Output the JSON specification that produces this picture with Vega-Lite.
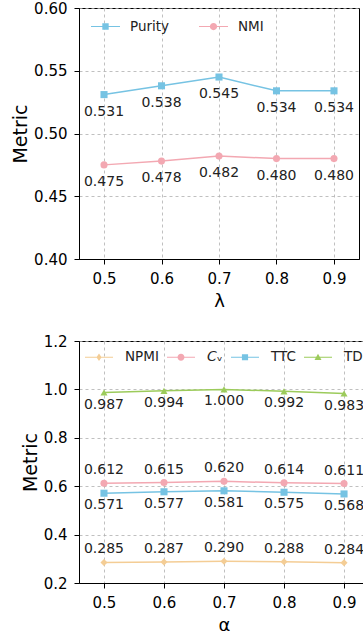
{
  "$schema": "https://vega.github.io/schema/vega-lite/v6.json",
  "padding": {"top": 0, "left": 11, "right": 0, "bottom": 0},
  "spacing": 22,
  "datasets": {
    "lambda": [
      {"param": 0.5, "series": "Purity", "value": 0.531},
      {"param": 0.6, "series": "Purity", "value": 0.538},
      {"param": 0.7, "series": "Purity", "value": 0.545},
      {"param": 0.8, "series": "Purity", "value": 0.534},
      {"param": 0.9, "series": "Purity", "value": 0.534},
      {"param": 0.5, "series": "NMI", "value": 0.475},
      {"param": 0.6, "series": "NMI", "value": 0.478},
      {"param": 0.7, "series": "NMI", "value": 0.482},
      {"param": 0.8, "series": "NMI", "value": 0.480},
      {"param": 0.9, "series": "NMI", "value": 0.480}
    ],
    "alpha": [
      {"param": 0.5, "series": "NPMI", "value": 0.285},
      {"param": 0.6, "series": "NPMI", "value": 0.287},
      {"param": 0.7, "series": "NPMI", "value": 0.290},
      {"param": 0.8, "series": "NPMI", "value": 0.288},
      {"param": 0.9, "series": "NPMI", "value": 0.284},
      {"param": 0.5, "series": "CV", "value": 0.612},
      {"param": 0.6, "series": "CV", "value": 0.615},
      {"param": 0.7, "series": "CV", "value": 0.620},
      {"param": 0.8, "series": "CV", "value": 0.614},
      {"param": 0.9, "series": "CV", "value": 0.611},
      {"param": 0.5, "series": "TTC", "value": 0.571},
      {"param": 0.6, "series": "TTC", "value": 0.577},
      {"param": 0.7, "series": "TTC", "value": 0.581},
      {"param": 0.8, "series": "TTC", "value": 0.575},
      {"param": 0.9, "series": "TTC", "value": 0.568},
      {"param": 0.5, "series": "TD", "value": 0.987},
      {"param": 0.6, "series": "TD", "value": 0.994},
      {"param": 0.7, "series": "TD", "value": 1.000},
      {"param": 0.8, "series": "TD", "value": 0.992},
      {"param": 0.9, "series": "TD", "value": 0.983}
    ]
  },
  "vconcat": [
    {
      "width": 280,
      "height": 251,
      "data": {"name": "lambda"},
      "encoding": {
        "x": {"field": "param", "type": "quantitative", "title": "λ",
              "scale": {"domain": [0.4565, 0.9435], "nice": false, "zero": false},
              "axis": {"values": [0.5, 0.6, 0.7, 0.8, 0.9], "format": ".1f"}},
        "y": {"field": "value", "type": "quantitative", "title": "Metric",
              "scale": {"domain": [0.4, 0.6], "nice": false, "zero": false},
              "axis": {"values": [0.4, 0.45, 0.5, 0.55, 0.6], "format": ".2f"}}
      },
      "layer": [
        {
          "mark": {"type": "line", "strokeWidth": 1.5},
          "encoding": {
            "color": {"field": "series", "type": "nominal",
                      "scale": {"domain": ["Purity", "NMI"], "range": ["#76c3e3", "#f3a8b2"]},
                      "legend": null}
          }
        },
        {
          "mark": {"type": "point", "filled": true, "opacity": 1, "size": 50},
          "encoding": {
            "color": {"field": "series", "type": "nominal",
                      "scale": {"domain": ["Purity", "NMI"], "range": ["#76c3e3", "#f3a8b2"]},
                      "legend": null},
            "shape": {"field": "series", "type": "nominal",
                      "scale": {"domain": ["Purity", "NMI"], "range": ["square", "circle"]},
                      "legend": null}
          }
        },
        {
          "mark": {"type": "text", "dy": 17, "fontSize": 14, "color": "#222222", "baseline": "middle"},
          "encoding": {
            "text": {"field": "value", "type": "quantitative", "format": ".3f"}
          }
        },
        {
          "transform": [{"filter": "datum.value < 0"}],
          "mark": {"type": "point", "filled": true, "opacity": 1},
          "encoding": {
            "color": {"field": "series", "type": "nominal",
                      "scale": {"domain": ["Purity", "NMI"], "range": ["#76c3e3", "#f3a8b2"]},
                      "legend": {"orient": "none", "legendX": 12, "legendY": 4, "direction": "horizontal",
                                 "title": null, "symbolSize": 841, "labelOffset": 10, "columnPadding": 29,
                                 "labelFontSize": 13.5, "symbolStrokeWidth": 0, "padding": 0}},
            "shape": {"field": "series", "type": "nominal",
                      "scale": {"domain": ["Purity", "NMI"],
                                "range": ["M-1,-0.03H1V0.03H-1Z M-0.22,-0.22H0.22V0.22H-0.22Z",
                                          "M-1,-0.03H1V0.03H-1Z M0.25,0A0.25,0.25,0,1,1,-0.25,0A0.25,0.25,0,1,1,0.25,0Z"]},
                      "legend": {"orient": "none", "legendX": 12, "legendY": 4, "direction": "horizontal",
                                 "title": null, "symbolSize": 841, "labelOffset": 10, "columnPadding": 29,
                                 "labelFontSize": 13.5, "symbolStrokeWidth": 0, "padding": 0}}
          }
        }
      ],
      "resolve": {"scale": {"shape": "independent", "color": "independent"}}
    },
    {
      "width": 290,
      "height": 242,
      "data": {"name": "alpha"},
      "encoding": {
        "x": {"field": "param", "type": "quantitative", "title": "α",
              "scale": {"domain": [0.4584, 0.9416], "nice": false, "zero": false},
              "axis": {"values": [0.5, 0.6, 0.7, 0.8, 0.9], "format": ".1f"}},
        "y": {"field": "value", "type": "quantitative", "title": "Metric",
              "scale": {"domain": [0.2, 1.2], "nice": false, "zero": false},
              "axis": {"values": [0.2, 0.4, 0.6, 0.8, 1.0, 1.2], "format": ".1f"}}
      },
      "layer": [
        {
          "mark": {"type": "line", "strokeWidth": 1.5},
          "encoding": {
            "color": {"field": "series", "type": "nominal",
                      "scale": {"domain": ["NPMI", "CV", "TTC", "TD"], "range": ["#f4cd95", "#f3a8b2", "#76c3e3", "#9ccb5b"]},
                      "legend": null}
          }
        },
        {
          "mark": {"type": "point", "filled": true, "opacity": 1, "size": 50},
          "encoding": {
            "color": {"field": "series", "type": "nominal",
                      "scale": {"domain": ["NPMI", "CV", "TTC", "TD"], "range": ["#f4cd95", "#f3a8b2", "#76c3e3", "#9ccb5b"]},
                      "legend": null},
            "shape": {"field": "series", "type": "nominal",
                      "scale": {"domain": ["NPMI", "CV", "TTC", "TD"], "range": ["diamond", "circle", "square", "triangle-up"]},
                      "legend": null}
          }
        },
        {
          "transform": [{"filter": {"field": "series", "oneOf": ["TD", "TTC"]}}],
          "mark": {"type": "text", "dy": 12, "fontSize": 14, "color": "#222222", "baseline": "middle"},
          "encoding": {
            "text": {"field": "value", "type": "quantitative", "format": ".3f"}
          }
        },
        {
          "transform": [{"filter": {"field": "series", "oneOf": ["NPMI", "CV"]}}],
          "mark": {"type": "text", "dy": -13, "fontSize": 14, "color": "#222222", "baseline": "middle"},
          "encoding": {
            "text": {"field": "value", "type": "quantitative", "format": ".3f"}
          }
        },
        {
          "transform": [{"filter": "datum.value < 0"}],
          "mark": {"type": "point", "filled": true, "opacity": 1},
          "encoding": {
            "color": {"field": "series", "type": "nominal",
                      "scale": {"domain": ["NPMI", "CV", "TTC", "TD"], "range": ["#f4cd95", "#f3a8b2", "#76c3e3", "#9ccb5b"]},
                      "legend": {"orient": "none", "legendX": 6, "legendY": 2, "direction": "horizontal",
                                 "title": null, "symbolSize": 784, "labelOffset": 12, "columnPadding": 8,
                                 "labelFontSize": 13.5, "symbolStrokeWidth": 0, "padding": 0,
                                 "labelExpr": "datum.label == 'CV' ? '𝘊ᵥ' : datum.label"}},
            "shape": {"field": "series", "type": "nominal",
                      "scale": {"domain": ["NPMI", "CV", "TTC", "TD"],
                                "range": ["M-1,-0.03H1V0.03H-1Z M0,-0.27L0.18,0L0,0.27L-0.18,0Z",
                                          "M-1,-0.03H1V0.03H-1Z M0.25,0A0.25,0.25,0,1,1,-0.25,0A0.25,0.25,0,1,1,0.25,0Z",
                                          "M-1,-0.03H1V0.03H-1Z M-0.22,-0.22H0.22V0.22H-0.22Z",
                                          "M-1,-0.03H1V0.03H-1Z M0,-0.25L0.25,0.19L-0.25,0.19Z"]},
                      "legend": {"orient": "none", "legendX": 6, "legendY": 2, "direction": "horizontal",
                                 "title": null, "symbolSize": 784, "labelOffset": 12, "columnPadding": 8,
                                 "labelFontSize": 13.5, "symbolStrokeWidth": 0, "padding": 0,
                                 "labelExpr": "datum.label == 'CV' ? '𝘊ᵥ' : datum.label"}}
          }
        }
      ],
      "resolve": {"scale": {"shape": "independent", "color": "independent"}}
    }
  ],
  "config": {
    "font": "DejaVu Sans",
    "view": {"stroke": "black", "strokeWidth": 1},
    "axis": {
      "domainColor": "black", "domainWidth": 1, "tickColor": "black", "tickWidth": 1, "tickSize": 5,
      "labelColor": "black", "labelFontSize": 15, "labelPadding": 7, "labelFont": "DejaVu Sans",
      "titleColor": "black", "titleFontSize": 18, "titleFontWeight": "normal", "titleFont": "DejaVu Sans",
      "gridColor": "#b0b0b0", "gridDash": [3, 3], "gridWidth": 0.8
    },
    "axisX": {"titlePadding": 6},
    "axisY": {"titlePadding": 3, "titleFontSize": 19},
    "legend": {"labelColor": "#222222", "labelFont": "DejaVu Sans"}
  }
}
